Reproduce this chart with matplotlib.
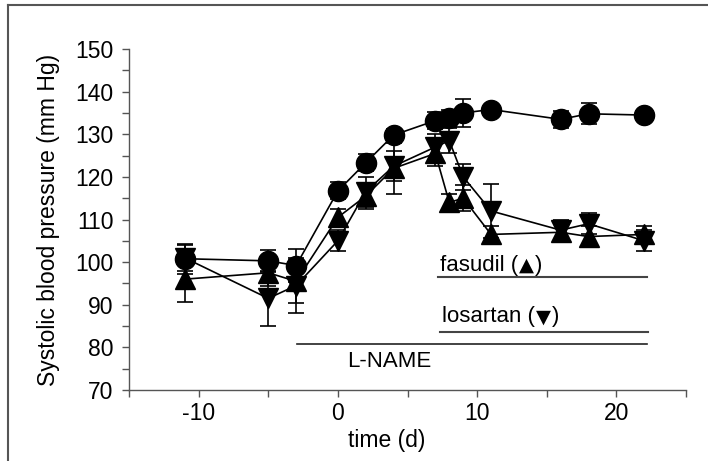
import matplotlib
matplotlib.use("Agg")
import matplotlib.pyplot as plt
from matplotlib.lines import Line2D
from matplotlib.ticker import MultipleLocator
from matplotlib.transforms import offset_copy

plt.rcParams['font.family'] = ['Liberation Sans', 'DejaVu Sans']
plt.rcParams['axes.unicode_minus'] = False

days = [-11, -5, -3, 0, 2, 4, 7, 8, 9, 11, 16, 18, 22]

control = [100.8, 100.3, 99.2, 116.7, 123.3, 129.8, 133.2, 133.8, 135.0, 135.8, 133.5, 134.8, 134.5]
control_err = [3.5, 2.5, 3.8, 2.0, 2.0, 1.5, 2.0, 2.0, 3.3, 1.0, 2.0, 2.5, 1.0]

fasudil = [96.0, 97.5, 95.5, 110.5, 115.5, 122.0, 125.5, 114.0, 115.0, 106.5, 107.0, 106.0, 106.5]
fasudil_err = [5.3, 3.0, 5.0, 2.0, 3.0, 6.0, 3.0, 2.0, 3.0, 2.0, 2.0, 2.5, 2.0]

losartan = [101.0, 91.5, 94.5, 105.0, 116.5, 122.5, 127.0, 128.5, 120.0, 112.0, 107.5, 109.0, 105.0]
losartan_err = [3.0, 6.5, 6.5, 2.5, 3.5, 3.5, 3.0, 3.0, 3.0, 6.3, 2.5, 2.5, 2.5]

fig = plt.figure(figsize=(7.08, 4.61), dpi=100)
ax = fig.add_axes([129 / 708, 1 - 390 / 461, (686 - 129) / 708, (390 - 49) / 461])

for y, e, m in [(control, control_err, 'o'), (fasudil, fasudil_err, '^'), (losartan, losartan_err, 'v')]:
    ax.errorbar(days, y, yerr=e, fmt='-', marker=m, color='black', markersize=14.5,
                linewidth=1.2, elinewidth=1.2, capsize=6, capthick=1.2, zorder=3)

ax.set_xlim(-15, 25)
ax.set_ylim(70, 150)
ax.xaxis.set_major_locator(MultipleLocator(10))
ax.xaxis.set_minor_locator(MultipleLocator(5))
ax.yaxis.set_major_locator(MultipleLocator(10))
ax.yaxis.set_minor_locator(MultipleLocator(5))
for s in ['top', 'right']:
    ax.spines[s].set_visible(False)
for s in ['left', 'bottom']:
    ax.spines[s].set_color('#555555')
    ax.spines[s].set_linewidth(1.0)
ax.tick_params(which='both', direction='out', color='#555555', width=1.0)
ax.tick_params(which='major', length=5, labelsize=16.5)
ax.tick_params(which='minor', length=5)
ax.tick_params(axis='y', which='major', pad=6)
ax.tick_params(axis='x', which='major', pad=4)

ax.set_xlabel('time (d)', fontsize=16.5)
ax.xaxis.set_label_coords(0.463, -0.115)
ax.set_ylabel('Systolic blood pressure (mm Hg)', fontsize=16.5)
ax.yaxis.set_label_coords(-0.124, 0.5)

# treatment bars
ax.plot([7.2, 22.2], [96.4, 96.4], color='#444444', linewidth=1.5)
ax.plot([7.3, 22.3], [83.6, 83.6], color='#444444', linewidth=1.5)
ax.plot([-2.9, 22.2], [80.8, 80.8], color='#222222', linewidth=1.2)

fig.canvas.draw()
renderer = fig.canvas.get_renderer()

def label_with_marker(x, y, word, sym):
    t1 = ax.text(x, y, word + ' (', fontsize=16, ha='left', va='baseline')
    w1 = t1.get_window_extent(renderer).width
    t2 = ax.text(x, y, sym, fontsize=14, family='DejaVu Sans', ha='left', va='baseline',
                 transform=offset_copy(ax.transData, fig, x=w1 + 1, y=0, units='dots'))
    w2 = t2.get_window_extent(renderer).width
    ax.text(x, y, ')', fontsize=16, ha='left', va='baseline',
            transform=offset_copy(ax.transData, fig, x=w1 + w2 + 2, y=0, units='dots'))

label_with_marker(7.3, 97.9, 'fasudil', '▲')
label_with_marker(7.5, 85.9, 'losartan', '▼')

ax.text(3.7, 76.6, 'L-NAME', fontsize=16, ha='center', va='center')

# figure frame (top and left)
fig.add_artist(Line2D([8 / 708, 8 / 708], [0, 1 - 5 / 461], transform=fig.transFigure,
                      color='#555555', linewidth=1.5))
fig.add_artist(Line2D([8 / 708, 1], [1 - 5 / 461, 1 - 5 / 461], transform=fig.transFigure,
                      color='#555555', linewidth=1.5))

fig.savefig('out.png', dpi=100)
